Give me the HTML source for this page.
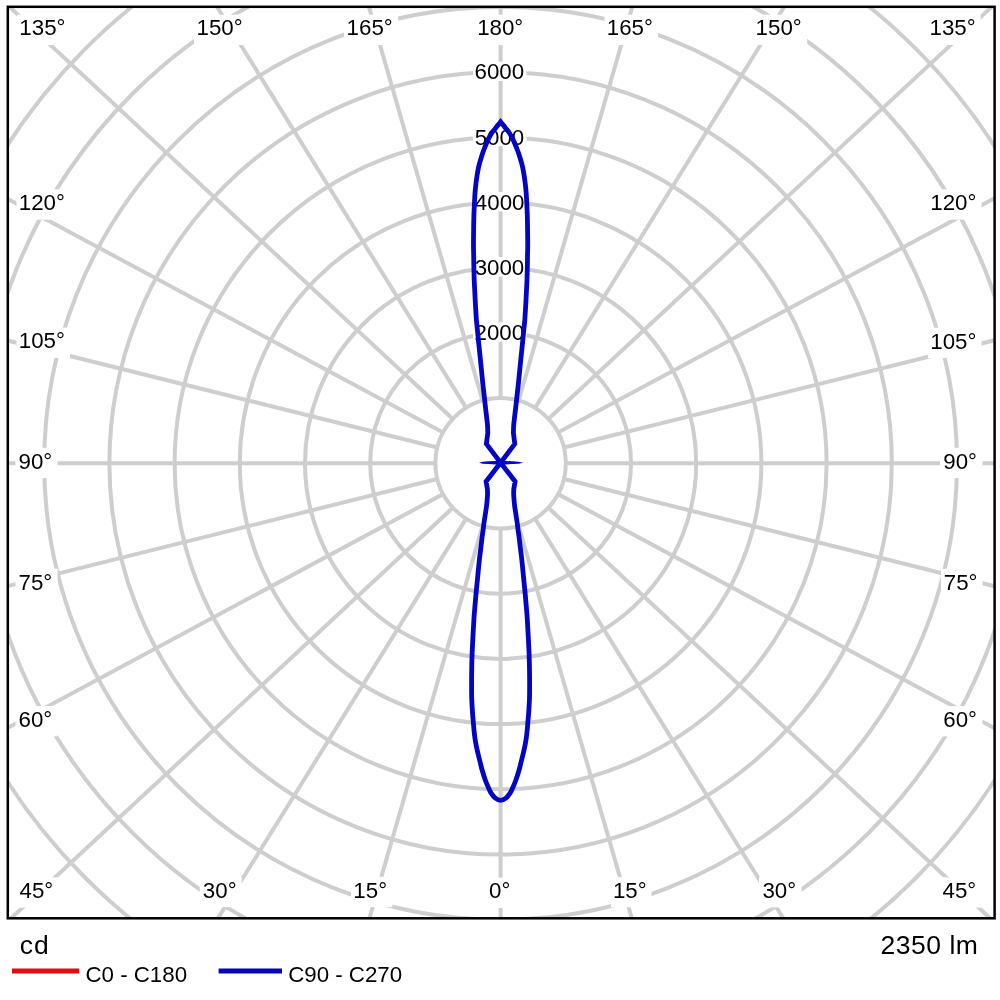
<!DOCTYPE html><html><head><meta charset="utf-8"><style>html,body{margin:0;padding:0;background:#fff;}svg{display:block;will-change:transform;}text{font-family:"Liberation Sans",Arial,sans-serif;fill:#000;}</style></head><body>
<svg width="1000" height="1000" viewBox="0 0 1000 1000">
<rect width="1000" height="1000" fill="#fff"/>
<defs><clipPath id="c"><rect x="7.8" y="6.8" width="986.8000000000001" height="911.5"/></clipPath></defs>
<g clip-path="url(#c)" fill="none" stroke="#cecece" stroke-width="4.0">
<circle cx="500.6" cy="463.3" r="65.20"/>
<circle cx="500.6" cy="463.3" r="130.40"/>
<circle cx="500.6" cy="463.3" r="195.60"/>
<circle cx="500.6" cy="463.3" r="260.80"/>
<circle cx="500.6" cy="463.3" r="326.00"/>
<circle cx="500.6" cy="463.3" r="391.20"/>
<circle cx="500.6" cy="463.3" r="456.40"/>
<circle cx="500.6" cy="463.3" r="521.60"/>
<circle cx="500.6" cy="463.3" r="586.80"/>
<line x1="500.60" y1="528.50" x2="500.60" y2="1263.30"/>
<line x1="518.66" y1="525.95" x2="722.22" y2="1231.99"/>
<line x1="535.01" y1="518.68" x2="922.75" y2="1142.85"/>
<line x1="548.36" y1="507.69" x2="1086.60" y2="1007.91"/>
<line x1="558.05" y1="494.13" x2="1205.53" y2="841.55"/>
<line x1="563.87" y1="479.06" x2="1276.89" y2="656.61"/>
<line x1="565.80" y1="463.30" x2="1300.60" y2="463.30"/>
<line x1="563.87" y1="447.54" x2="1276.89" y2="269.99"/>
<line x1="558.05" y1="432.47" x2="1205.53" y2="85.05"/>
<line x1="548.36" y1="418.91" x2="1086.60" y2="-81.31"/>
<line x1="535.01" y1="407.92" x2="922.75" y2="-216.25"/>
<line x1="518.66" y1="400.65" x2="722.22" y2="-305.39"/>
<line x1="500.60" y1="398.10" x2="500.60" y2="-336.70"/>
<line x1="482.54" y1="400.65" x2="278.98" y2="-305.39"/>
<line x1="466.19" y1="407.92" x2="78.45" y2="-216.25"/>
<line x1="452.84" y1="418.91" x2="-85.40" y2="-81.31"/>
<line x1="443.15" y1="432.47" x2="-204.33" y2="85.05"/>
<line x1="437.33" y1="447.54" x2="-275.69" y2="269.99"/>
<line x1="435.40" y1="463.30" x2="-299.40" y2="463.30"/>
<line x1="437.33" y1="479.06" x2="-275.69" y2="656.61"/>
<line x1="443.15" y1="494.13" x2="-204.33" y2="841.55"/>
<line x1="452.84" y1="507.69" x2="-85.40" y2="1007.91"/>
<line x1="466.19" y1="518.68" x2="78.45" y2="1142.85"/>
<line x1="482.54" y1="525.95" x2="278.98" y2="1231.99"/>
</g>
<g>
<rect x="17.0" y="14.7" width="53.7" height="30.3" fill="#fff"/>
<rect x="194.0" y="14.7" width="54.1" height="30.3" fill="#fff"/>
<rect x="344.0" y="14.7" width="54.2" height="30.3" fill="#fff"/>
<rect x="474.8" y="14.7" width="53.8" height="30.3" fill="#fff"/>
<rect x="604.5" y="14.7" width="53.5" height="30.3" fill="#fff"/>
<rect x="753.0" y="14.7" width="54.2" height="30.3" fill="#fff"/>
<rect x="927.4" y="14.7" width="53.3" height="30.3" fill="#fff"/>
<rect x="16.5" y="189.3" width="53.5" height="30.3" fill="#fff"/>
<rect x="16.5" y="327.6" width="53.5" height="30.3" fill="#fff"/>
<rect x="15.5" y="447.8" width="42.0" height="30.3" fill="#fff"/>
<rect x="15.5" y="568.8" width="42.0" height="30.3" fill="#fff"/>
<rect x="15.5" y="706.1" width="42.0" height="30.3" fill="#fff"/>
<rect x="16.0" y="877.3" width="42.5" height="30.3" fill="#fff"/>
<rect x="199.7" y="876.8" width="42.0" height="30.3" fill="#fff"/>
<rect x="351.0" y="876.8" width="41.3" height="30.3" fill="#fff"/>
<rect x="485.5" y="877.6" width="30.4" height="30.3" fill="#fff"/>
<rect x="611.0" y="877.1" width="40.5" height="30.3" fill="#fff"/>
<rect x="759.0" y="877.1" width="42.5" height="30.3" fill="#fff"/>
<rect x="939.0" y="877.3" width="42.5" height="30.3" fill="#fff"/>
<rect x="928.0" y="189.3" width="53.5" height="30.3" fill="#fff"/>
<rect x="928.0" y="327.8" width="53.5" height="30.3" fill="#fff"/>
<rect x="940.0" y="447.8" width="42.5" height="30.3" fill="#fff"/>
<rect x="941.0" y="568.8" width="41.5" height="30.3" fill="#fff"/>
<rect x="940.0" y="706.1" width="42.5" height="30.3" fill="#fff"/>
<rect x="473.0" y="322.4" width="53.4" height="19.3" fill="#fff"/>
<rect x="473.0" y="257.2" width="53.4" height="19.3" fill="#fff"/>
<rect x="473.0" y="192.0" width="53.4" height="19.3" fill="#fff"/>
<rect x="473.0" y="126.8" width="53.4" height="19.3" fill="#fff"/>
<rect x="473.0" y="61.6" width="53.4" height="19.3" fill="#fff"/>
</g>
<g>
<text x="19.36" y="35.40" font-size="22.3">135°</text>
<text x="196.56" y="35.40" font-size="22.3">150°</text>
<text x="346.61" y="35.40" font-size="22.3">165°</text>
<text x="477.13" y="35.40" font-size="22.3">180°</text>
<text x="606.76" y="35.40" font-size="22.3">165°</text>
<text x="755.61" y="35.40" font-size="22.3">150°</text>
<text x="929.56" y="35.40" font-size="22.3">135°</text>
<text x="18.76" y="210.00" font-size="22.3">120°</text>
<text x="18.76" y="348.30" font-size="22.3">105°</text>
<text x="18.54" y="468.50" font-size="22.3">90°</text>
<text x="18.49" y="589.50" font-size="22.3">75°</text>
<text x="18.49" y="726.80" font-size="22.3">60°</text>
<text x="19.55" y="898.00" font-size="22.3">45°</text>
<text x="202.83" y="897.50" font-size="22.3">30°</text>
<text x="353.36" y="897.50" font-size="22.3">15°</text>
<text x="489.02" y="898.30" font-size="22.3">0°</text>
<text x="612.96" y="897.80" font-size="22.3">15°</text>
<text x="762.38" y="897.80" font-size="22.3">30°</text>
<text x="942.55" y="898.00" font-size="22.3">45°</text>
<text x="930.26" y="210.00" font-size="22.3">120°</text>
<text x="930.26" y="348.50" font-size="22.3">105°</text>
<text x="943.29" y="468.50" font-size="22.3">90°</text>
<text x="943.74" y="589.50" font-size="22.3">75°</text>
<text x="943.24" y="726.80" font-size="22.3">60°</text>
<text x="474.52" y="340.20" font-size="22.3">2000</text>
<text x="474.66" y="275.00" font-size="22.3">3000</text>
<text x="474.83" y="209.80" font-size="22.3">4000</text>
<text x="474.63" y="144.60" font-size="22.3">5000</text>
<text x="474.51" y="79.40" font-size="22.3">6000</text>
</g>
<g fill="none" stroke="#0404c4" stroke-width="4.8" stroke-linejoin="miter" stroke-miterlimit="10">
<path d="M500.60,800.40 C502.47,800.40 504.61,799.13 506.20,797.90 C507.79,796.67 509.16,794.48 510.15,793.00 C511.14,791.52 511.25,791.00 512.15,789.00 C513.05,787.00 514.39,784.17 515.55,781.00 C516.71,777.83 518.18,773.17 519.10,770.00 C520.02,766.83 520.43,764.67 521.10,762.00 C521.77,759.33 522.47,756.67 523.10,754.00 C523.73,751.33 524.37,748.67 524.90,746.00 C525.43,743.33 525.92,740.67 526.30,738.00 C526.68,735.33 526.93,732.67 527.20,730.00 C527.47,727.33 527.67,724.67 527.90,722.00 C528.13,719.33 528.40,716.67 528.60,714.00 C528.80,711.33 528.95,708.67 529.10,706.00 C529.25,703.33 529.42,700.67 529.50,698.00 C529.58,695.33 529.58,693.33 529.60,690.00 C529.62,686.67 529.62,682.00 529.60,678.00 C529.58,674.00 529.53,670.00 529.45,666.00 C529.37,662.00 529.25,658.00 529.10,654.00 C528.95,650.00 528.75,646.00 528.55,642.00 C528.35,638.00 528.12,634.00 527.90,630.00 C527.67,626.00 527.48,622.00 527.20,618.00 C526.93,614.00 526.58,610.00 526.25,606.00 C525.92,602.00 525.58,598.00 525.20,594.00 C524.83,590.00 524.41,586.17 524.00,582.00 C523.59,577.83 523.15,573.00 522.75,569.00 C522.35,565.00 522.02,561.67 521.60,558.00 C521.18,554.33 520.69,550.67 520.25,547.00 C519.81,543.33 519.32,538.83 518.95,536.00 C518.58,533.17 518.32,532.00 518.05,530.00 C517.78,528.00 517.62,526.00 517.35,524.00 C517.08,522.00 516.75,520.00 516.45,518.00 C516.15,516.00 515.85,514.00 515.55,512.00 C515.25,510.00 514.90,508.00 514.65,506.00 C514.40,504.00 514.22,502.00 514.05,500.00 C513.88,498.00 513.69,495.83 513.65,494.00 C513.61,492.17 513.78,489.83 513.80,489.00 L515.10,481.50 L500.60,462.70 L514.80,443.90 L513.40,433.00 C513.45,431.67 513.48,427.83 513.70,425.00 C513.92,422.17 514.32,419.33 514.70,416.00 C515.08,412.67 515.58,408.67 516.00,405.00 C516.42,401.33 516.79,397.67 517.20,394.00 C517.61,390.33 518.06,386.67 518.45,383.00 C518.84,379.33 519.18,375.67 519.55,372.00 C519.92,368.33 520.27,364.67 520.65,361.00 C521.02,357.33 521.41,353.83 521.80,350.00 C522.19,346.17 522.60,342.00 523.00,338.00 C523.40,334.00 523.90,329.00 524.20,326.00 C524.50,323.00 524.62,322.33 524.80,320.00 C524.98,317.67 525.13,314.67 525.30,312.00 C525.47,309.33 525.65,306.67 525.80,304.00 C525.95,301.33 526.07,298.67 526.20,296.00 C526.33,293.33 526.47,290.67 526.60,288.00 C526.73,285.33 526.90,282.67 527.00,280.00 C527.10,277.33 527.13,274.67 527.20,272.00 C527.27,269.33 527.35,266.67 527.40,264.00 C527.45,261.33 527.45,258.67 527.50,256.00 C527.55,253.33 527.67,250.67 527.70,248.00 C527.73,245.33 527.72,242.67 527.70,240.00 C527.68,237.33 527.63,234.67 527.60,232.00 C527.57,229.33 527.55,226.67 527.50,224.00 C527.45,221.33 527.38,218.67 527.30,216.00 C527.22,213.33 527.12,210.67 527.00,208.00 C526.88,205.33 526.75,202.67 526.60,200.00 C526.45,197.33 526.32,194.67 526.10,192.00 C525.88,189.33 525.62,186.67 525.30,184.00 C524.98,181.33 524.58,178.50 524.20,176.00 C523.82,173.50 523.35,170.83 523.00,169.00 C522.65,167.17 522.43,166.33 522.10,165.00 C521.77,163.67 521.38,162.33 521.00,161.00 C520.62,159.67 520.22,158.33 519.80,157.00 C519.38,155.67 518.97,154.33 518.50,153.00 C518.03,151.67 517.52,150.33 517.00,149.00 C516.48,147.67 515.95,146.33 515.40,145.00 C514.85,143.67 514.30,142.33 513.70,141.00 C513.10,139.67 512.52,138.33 511.80,137.00 C511.08,135.67 510.32,134.33 509.40,133.00 C508.48,131.67 507.33,130.33 506.30,129.00 C505.27,127.67 504.15,126.20 503.20,125.00 C502.25,123.80 501.03,122.33 500.60,121.80 C500.17,122.33 498.95,123.80 498.00,125.00 C497.05,126.20 495.93,127.67 494.90,129.00 C493.87,130.33 492.72,131.67 491.80,133.00 C490.88,134.33 490.12,135.67 489.40,137.00 C488.68,138.33 488.10,139.67 487.50,141.00 C486.90,142.33 486.35,143.67 485.80,145.00 C485.25,146.33 484.72,147.67 484.20,149.00 C483.68,150.33 483.17,151.67 482.70,153.00 C482.23,154.33 481.82,155.67 481.40,157.00 C480.98,158.33 480.58,159.67 480.20,161.00 C479.82,162.33 479.43,163.67 479.10,165.00 C478.77,166.33 478.55,167.17 478.20,169.00 C477.85,170.83 477.38,173.50 477.00,176.00 C476.62,178.50 476.22,181.33 475.90,184.00 C475.58,186.67 475.32,189.33 475.10,192.00 C474.88,194.67 474.75,197.33 474.60,200.00 C474.45,202.67 474.32,205.33 474.20,208.00 C474.08,210.67 473.98,213.33 473.90,216.00 C473.82,218.67 473.75,221.33 473.70,224.00 C473.65,226.67 473.63,229.33 473.60,232.00 C473.57,234.67 473.52,237.33 473.50,240.00 C473.48,242.67 473.47,245.33 473.50,248.00 C473.53,250.67 473.65,253.33 473.70,256.00 C473.75,258.67 473.75,261.33 473.80,264.00 C473.85,266.67 473.93,269.33 474.00,272.00 C474.07,274.67 474.10,277.33 474.20,280.00 C474.30,282.67 474.47,285.33 474.60,288.00 C474.73,290.67 474.87,293.33 475.00,296.00 C475.13,298.67 475.25,301.33 475.40,304.00 C475.55,306.67 475.73,309.33 475.90,312.00 C476.07,314.67 476.22,317.67 476.40,320.00 C476.58,322.33 476.70,323.00 477.00,326.00 C477.30,329.00 477.80,334.00 478.20,338.00 C478.60,342.00 479.01,346.17 479.40,350.00 C479.79,353.83 480.18,357.33 480.55,361.00 C480.93,364.67 481.28,368.33 481.65,372.00 C482.02,375.67 482.36,379.33 482.75,383.00 C483.14,386.67 483.59,390.33 484.00,394.00 C484.41,397.67 484.78,401.33 485.20,405.00 C485.62,408.67 486.12,412.67 486.50,416.00 C486.88,419.33 487.28,422.17 487.50,425.00 C487.72,427.83 487.75,431.67 487.80,433.00 L486.40,443.90 L500.60,462.70 L486.10,481.50 L487.40,489.00 C487.43,489.83 487.59,492.17 487.55,494.00 C487.51,495.83 487.32,498.00 487.15,500.00 C486.98,502.00 486.80,504.00 486.55,506.00 C486.30,508.00 485.95,510.00 485.65,512.00 C485.35,514.00 485.05,516.00 484.75,518.00 C484.45,520.00 484.12,522.00 483.85,524.00 C483.58,526.00 483.42,528.00 483.15,530.00 C482.88,532.00 482.62,533.17 482.25,536.00 C481.88,538.83 481.39,543.33 480.95,547.00 C480.51,550.67 480.02,554.33 479.60,558.00 C479.18,561.67 478.85,565.00 478.45,569.00 C478.05,573.00 477.61,577.83 477.20,582.00 C476.79,586.17 476.38,590.00 476.00,594.00 C475.62,598.00 475.28,602.00 474.95,606.00 C474.62,610.00 474.27,614.00 474.00,618.00 C473.73,622.00 473.52,626.00 473.30,630.00 C473.08,634.00 472.85,638.00 472.65,642.00 C472.45,646.00 472.25,650.00 472.10,654.00 C471.95,658.00 471.83,662.00 471.75,666.00 C471.67,670.00 471.62,674.00 471.60,678.00 C471.58,682.00 471.58,686.67 471.60,690.00 C471.62,693.33 471.62,695.33 471.70,698.00 C471.78,700.67 471.95,703.33 472.10,706.00 C472.25,708.67 472.40,711.33 472.60,714.00 C472.80,716.67 473.07,719.33 473.30,722.00 C473.53,724.67 473.73,727.33 474.00,730.00 C474.27,732.67 474.52,735.33 474.90,738.00 C475.28,740.67 475.77,743.33 476.30,746.00 C476.83,748.67 477.47,751.33 478.10,754.00 C478.73,756.67 479.43,759.33 480.10,762.00 C480.77,764.67 481.18,766.83 482.10,770.00 C483.03,773.17 484.49,777.83 485.65,781.00 C486.81,784.17 488.15,787.00 489.05,789.00 C489.95,791.00 490.06,791.52 491.05,793.00 C492.04,794.48 493.41,796.67 495.00,797.90 C496.59,799.13 498.73,800.40 500.60,800.40"/>
</g>
<path d="M479.10,462.70 L482.60,461.70 L488.60,461.35 L495.60,460.95 L500.60,460.60 L505.60,460.95 L512.60,461.35 L518.60,461.70 L523.10,462.70 L518.60,463.70 L512.60,464.05 L505.60,464.45 L500.60,464.80 L495.60,464.45 L488.60,464.05 L482.60,463.70 Z" fill="#0404c4"/>
<rect x="7.8" y="6.8" width="986.8000000000001" height="911.5" fill="none" stroke="#000" stroke-width="2.5"/>
<text x="19.67" y="953.50" font-size="26.5" letter-spacing="1.0">cd</text>
<text x="880.57" y="953.60" font-size="26.5" letter-spacing="0.5">2350 lm</text>
<line x1="12" y1="971" x2="79.2" y2="971" stroke="#dc1010" stroke-width="5"/>
<text x="85.45" y="981.60" font-size="22.3">C0 - C180</text>
<line x1="218.6" y1="971" x2="282" y2="971" stroke="#0606b4" stroke-width="5"/>
<text x="288.15" y="981.60" font-size="22.3">C90 - C270</text>
</svg></body></html>
